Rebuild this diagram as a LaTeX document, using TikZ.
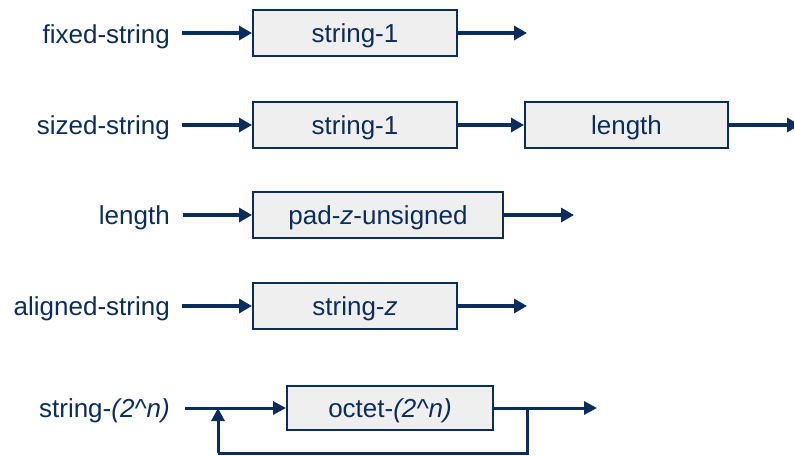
\documentclass[tikz,border=0pt]{standalone}
\usepackage{fontspec}
\setmainfont{Liberation Sans}
\usetikzlibrary{arrows.meta,positioning,calc}
\definecolor{navy}{HTML}{0B2D5B}
\definecolor{boxfill}{HTML}{EFEFEF}
\begin{document}
\begin{tikzpicture}[x=1pt,y=-1pt,
  every node/.style={text=navy,font=\fontsize{26}{30}\selectfont,text height=22pt,text depth=3pt},
  lbl/.style={anchor=east,inner sep=0pt},
  prod/.style={draw=navy,line width=2pt,fill=boxfill,minimum height=46pt,inner sep=0pt},
  flow/.style={draw=navy,line width=3.8pt,-{Triangle[length=13pt,width=14pt]}},
  loopline/.style={draw=navy,line width=3pt},
  looparrow/.style={draw=navy,line width=3pt,-{Triangle[length=13pt,width=13pt]}}]
\useasboundingbox (0,0) rectangle (794,455);

% fixed-string
\node[lbl] (l1) at (170,34) {fixed-string};
\node[prod,minimum width=204pt] (b1) at (355,33) {string-1};
\coordinate (e1) at (527,33);
\draw[flow] ([xshift=12pt]l1.east |- b1.west) -- (b1.west);
\draw[flow] (b1.east) -- (e1);

% sized-string
\node[lbl] (l2) at (170,125) {sized-string};
\node[prod,minimum width=204pt] (b2) at (355,125) {string-1};
\node[prod,minimum width=203pt] (b3) at (626.5,125) {length};
\coordinate (e2) at (800,125);
\draw[flow] ([xshift=12pt]l2.east) -- (b2.west);
\draw[flow] (b2.east) -- (b3.west);
\draw[flow] (b3.east) -- (e2);

% length
\node[lbl] (l3) at (170,215) {length};
\node[prod,minimum width=250pt] (b4) at (378,215) {pad-\textit{z}-unsigned};
\coordinate (e3) at (574,215);
\draw[flow] ([xshift=13pt]l3.east) -- (b4.west);
\draw[flow] (b4.east) -- (e3);

% aligned-string
\node[lbl] (l4) at (170,306) {aligned-string};
\node[prod,minimum width=204pt] (b5) at (355,306) {string-\textit{z}};
\coordinate (e4) at (527,306);
\draw[flow] ([xshift=12pt]l4.east) -- (b5.west);
\draw[flow] (b5.east) -- (e4);

% string-(2^n) with repetition loop
\node[lbl] (l5) at (170,408) {string-\textit{(2\textasciicircum n)}};
\node[prod,minimum width=206pt,minimum height=44pt] (b6) at (390,408) {octet-\textit{(2\textasciicircum n)}};
\coordinate (s5) at (185,408);
\coordinate (e5) at (597,408);
\coordinate (rb) at (527,408);
\coordinate (lb) at (218,408);
\draw[looparrow] (s5) -- (b6.west);
\draw[looparrow] (b6.east) -- (e5);
\draw[loopline] (rb) |- (218,453) coordinate (lc);
\draw[looparrow] (lc) -- (lb);
\end{tikzpicture}
\end{document}
